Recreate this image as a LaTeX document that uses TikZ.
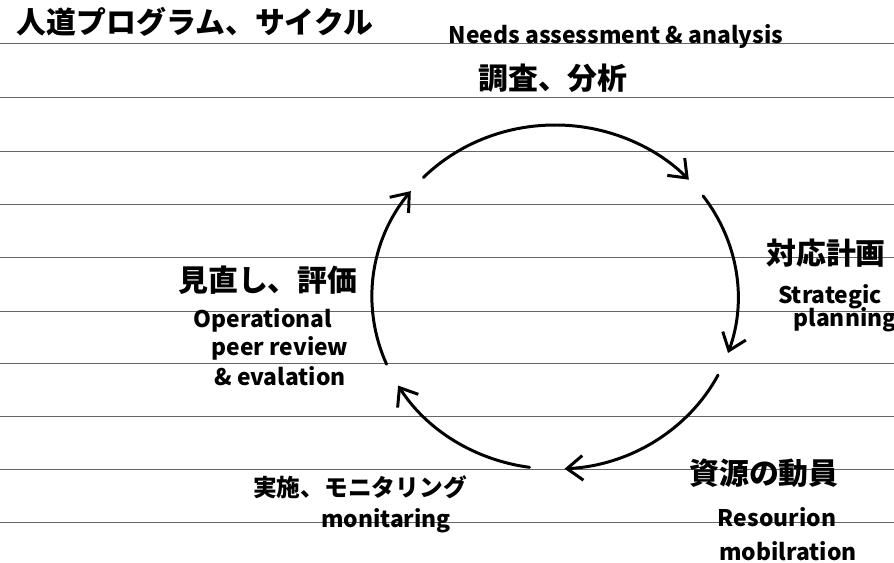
\documentclass[tikz,border=0pt]{standalone}
\usepackage{fontspec}
\setmainfont{Noto Sans CJK JP}
\usetikzlibrary{arrows.meta}

\begin{document}
\begin{tikzpicture}[x=0.02cm, y=-0.02cm,
    rule/.style={black!60, line width=0.45pt},
    cyc/.style={line width=1.7pt, line cap=round,
      -{Straight Barb[length=9pt, width=14pt, line width=1.7pt]}},
    jp/.style={inner sep=0pt, font=\fontsize{17}{20}\selectfont\bfseries},
    jps/.style={inner sep=0pt, font=\fontsize{13.5}{16}\selectfont\bfseries},
    en/.style={inner sep=0pt, font=\fontsize{13}{15}\selectfont\bfseries}]
    \useasboundingbox (0,0) rectangle (894,563);
    %Ruled lines
    \foreach \y in {43, 97, 151, 204, 257, 311, 363, 416, 469, 522}
      \draw[rule] (0,\y) -- (894,\y);
    %Cycle arrows
    \coordinate (c) at (555,297);
    \foreach \s/\e in {224/317, 324/379, 387/447, 98/149, 157/218}
      \draw[cyc] ([shift={(\s:183 and 172)}]c) arc[start angle=\s, end angle=\e, x radius=183, y radius=172];
    %Title
    \node[jp] (title) at (195,22) {人道プログラム、サイクル};
    %Stage labels
    \node[en] (needs) at (616,37) {Needs assessment \& analysis};
    \node[jp] (survey) at (553,78) {調査、分析};
    \node[jp] (plan) at (826,253) {対応計画};
    \node[en] (strat) at (830,297) {Strategic};
    \node[en] (strat2) at (845,320) {planning};
    \node[jp] (res) at (764,473) {資源の動員};
    \node[en] (mob) at (777,517) {Resourion};
    \node[en] (mob2) at (788,551) {mobilration};
    \node[jp] (review) at (268,280) {見直し、評価};
    \node[en] (op) at (263,320) {Operational};
    \node[en] (op2) at (280,348) {peer review};
    \node[en] (op3) at (280,376) {\& evalation};
    \node[jps] (impl) at (360,487) {実施、モニタリング};
    \node[en] (mon) at (386,521) {monitaring};
\end{tikzpicture}
\end{document}
